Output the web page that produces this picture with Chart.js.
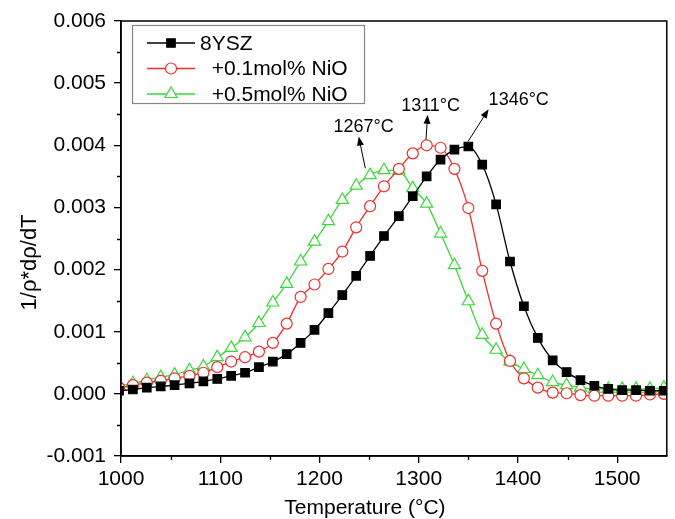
<!DOCTYPE html>
<html><head><meta charset="utf-8">
<script src="https://cdn.jsdelivr.net/npm/chart.js@4.4.0/dist/chart.umd.min.js"></script>
<style>html,body{margin:0;padding:0;background:#fff}#wrap{width:675px;height:519px}</style>
</head><body><div id="wrap"><canvas id="c" width="675" height="519"></canvas></div>
<script>
// ---- data ----
const temperatures = [998,1012,1026,1040,1054,1069,1083,1097,1111,1125,1139,1153,1167,1181,1195,1209,1223,1237,1251,1265,1280,1294,1308,1322,1336,1350,1364,1378,1392,1406,1420,1435,1449,1463,1477,1491,1505,1519,1533,1547];
const ysz8 = [0.00005,0.00007,0.00010,0.00012,0.00014,0.00017,0.00020,0.00024,0.00029,0.00034,0.00043,0.00052,0.00064,0.00082,0.00103,0.00130,0.00159,0.00190,0.00222,0.00254,0.00286,0.00318,0.00350,0.00377,0.00393,0.00398,0.00369,0.00305,0.00213,0.00141,0.00090,0.00054,0.00035,0.00022,0.00013,0.00008,0.00006,0.00006,0.00005,0.00005];
const nio01 = [0.00010,0.00014,0.00018,0.00021,0.00025,0.00029,0.00034,0.00043,0.00052,0.00059,0.00068,0.00082,0.00113,0.00156,0.00176,0.00201,0.00229,0.00268,0.00302,0.00334,0.00362,0.00387,0.00400,0.00396,0.00362,0.00299,0.00198,0.00113,0.00053,0.00025,0.00010,0.00002,0.00001,-0.00002,-0.00003,-0.00003,-0.00003,-0.00003,-0.00001,0.00000];
const nio05 = [0.00013,0.00017,0.00022,0.00027,0.00031,0.00038,0.00044,0.00059,0.00074,0.00091,0.00114,0.00147,0.00177,0.00213,0.00245,0.00278,0.00312,0.00335,0.00352,0.00360,0.00359,0.00331,0.00306,0.00258,0.00207,0.00149,0.00095,0.00071,0.00052,0.00040,0.00030,0.00019,0.00014,0.00010,0.00008,0.00008,0.00008,0.00008,0.00008,0.00010];
const seriesLabels = ['8YSZ', '  +0.1mol% NiO', '  +0.5mol% NiO'];
const xTickValues = [1000, 1100, 1200, 1300, 1400, 1500];
const yTickValues = [-0.001, 0.000, 0.001, 0.002, 0.003, 0.004, 0.005, 0.006];
const xTitle = 'Temperature (°C)';
const yTitle = '1/ρ*dρ/dT';
const peakLabels = ['1267°C', '1311°C', '1346°C'];
const peakLabelAt = [[1244.5, 0.00430], [1312, 0.00463], [1400.8, 0.00473]];
const arrowFrom = [[1246.2, 0.00363], [1307.3, 0.00409], [1349.7, 0.00406]];
const arrowTo = [[1239.5, 0.00414], [1309, 0.00449], [1370.4, 0.00458]];

const FONT = '"Liberation Sans", Arial, Helvetica, sans-serif';
const BLACK = '#000000', RED = '#ef2d2d', GREEN = '#3ad83a';

function pts(ys) { return temperatures.map((t, i) => ({x: t, y: ys[i]})); }

function drawMarker(ctx, style, x, y, r, fill, stroke, lw) {
  ctx.save();
  ctx.beginPath();
  if (style === 'rect') {
    const s = r * Math.SQRT1_2;
    ctx.rect(x - s, y - s, 2 * s, 2 * s);
  } else if (style === 'triangle') {
    for (let k = 0; k < 3; k++) {
      const a = k * 2 * Math.PI / 3;
      const px = x + Math.sin(a) * r, py = y - Math.cos(a) * r;
      if (k === 0) ctx.moveTo(px, py); else ctx.lineTo(px, py);
    }
    ctx.closePath();
  } else {
    ctx.arc(x, y, r, 0, Math.PI * 2);
  }
  ctx.fillStyle = fill; ctx.fill();
  ctx.lineWidth = lw; ctx.strokeStyle = stroke; ctx.stroke();
  ctx.restore();
}

const decorPlugin = {
  id: 'decor',
  afterDraw(chart) {
    const ctx = chart.ctx, ca = chart.chartArea;
    const xs = chart.scales.x, ys = chart.scales.y;
    ctx.save();
    // frame
    ctx.strokeStyle = '#000'; ctx.lineWidth = 1.5;
    ctx.strokeRect(ca.left, ca.top, ca.right - ca.left, ca.bottom - ca.top);
    // minor ticks
    ctx.lineWidth = 1.3;
    ctx.beginPath();
    for (let i = 0; i < xTickValues.length; i++) {
      const px = Math.round(xs.getPixelForValue(xTickValues[i] + 50)) + 0.5;
      if (px <= ca.right - 2) { ctx.moveTo(px, ca.bottom); ctx.lineTo(px, ca.bottom + 4); }
    }
    for (let i = 0; i < yTickValues.length - 1; i++) {
      const py = Math.round(ys.getPixelForValue(yTickValues[i] + 0.0005)) + 0.5;
      ctx.moveTo(ca.left, py); ctx.lineTo(ca.left - 4, py);
    }
    ctx.stroke();

    // axis titles
    ctx.fillStyle = '#000';
    ctx.font = '21px ' + FONT;
    ctx.textAlign = 'center'; ctx.textBaseline = 'middle';
    ctx.fillText(xTitle, ca.left + (ca.right - ca.left) * 0.447, ca.bottom + 52);
    ctx.save();
    ctx.translate(ca.left - 91, ca.top + (ca.bottom - ca.top) * 0.555);
    ctx.rotate(-Math.PI / 2);
    ctx.font = '22px ' + FONT;
    ctx.fillText(yTitle, 0, 0);
    ctx.restore();

    // peak annotations
    ctx.font = '18px ' + FONT;
    for (let i = 0; i < peakLabels.length; i++) {
      const tx = xs.getPixelForValue(peakLabelAt[i][0]), ty = ys.getPixelForValue(peakLabelAt[i][1]);
      ctx.fillText(peakLabels[i], tx, ty);
      const x0 = xs.getPixelForValue(arrowFrom[i][0]), y0 = ys.getPixelForValue(arrowFrom[i][1]);
      const x1 = xs.getPixelForValue(arrowTo[i][0]), y1 = ys.getPixelForValue(arrowTo[i][1]);
      const ang = Math.atan2(y1 - y0, x1 - x0);
      const hl = 9, hw = 3.5;
      ctx.beginPath(); ctx.lineWidth = 1; ctx.strokeStyle = '#000';
      ctx.moveTo(x0, y0);
      ctx.lineTo(x1 - Math.cos(ang) * hl * 0.8, y1 - Math.sin(ang) * hl * 0.8);
      ctx.stroke();
      ctx.beginPath();
      ctx.moveTo(x1, y1);
      ctx.lineTo(x1 - Math.cos(ang) * hl + Math.sin(ang) * hw, y1 - Math.sin(ang) * hl - Math.cos(ang) * hw);
      ctx.lineTo(x1 - Math.cos(ang) * hl - Math.sin(ang) * hw, y1 - Math.sin(ang) * hl + Math.cos(ang) * hw);
      ctx.closePath(); ctx.fill();
    }

    // legend box
    const bx = ca.left + 11, by = ca.top + 4, bw = 232, bh = 78;
    ctx.fillStyle = '#fff';
    ctx.fillRect(bx, by, bw, bh);
    ctx.strokeStyle = '#888'; ctx.lineWidth = 1.2;
    ctx.strokeRect(bx + 0.5, by + 0.5, bw, bh);
    ctx.font = '21px ' + FONT;
    ctx.textAlign = 'left'; ctx.textBaseline = 'middle';
    chart.data.datasets.forEach((ds, i) => {
      const ly = by + 18 + i * 25.5;
      const lx0 = bx + 15, lx1 = bx + 63, cx = (lx0 + lx1) / 2;
      ctx.beginPath(); ctx.strokeStyle = ds.borderColor; ctx.lineWidth = ds.borderWidth;
      ctx.moveTo(lx0, ly); ctx.lineTo(lx1, ly); ctx.stroke();
      drawMarker(ctx, ds.pointStyle, cx, ly, ds.pointRadius, ds.pointBackgroundColor, ds.pointBorderColor, ds.pointBorderWidth);
      ctx.fillStyle = '#000';
      ctx.fillText(ds.label, bx + 68, ly + 1);
    });
    ctx.restore();
  }
};

function ds(label, ys, color, style, radius, fill) {
  return {
    label: label, data: pts(ys), borderColor: color, borderWidth: 1.3,
    pointStyle: style, pointRadius: radius, pointHoverRadius: radius,
    pointBackgroundColor: fill, pointBorderColor: color, pointBorderWidth: 1.2,
    cubicInterpolationMode: 'monotone', fill: false
  };
}

new Chart(document.getElementById('c'), {
  type: 'line',
  data: {
    datasets: [
      ds(seriesLabels[0], ysz8, BLACK, 'rect', 6, BLACK),
      ds(seriesLabels[1], nio01, RED, 'circle', 5.5, '#ffffff'),
      ds(seriesLabels[2], nio05, GREEN, 'triangle', 7, '#ffffff')
    ]
  },
  options: {
    responsive: false, animation: false, devicePixelRatio: 1,
    layout: { padding: { top: 21, right: 5, left: 0, bottom: 0 } },
    plugins: { legend: { display: false }, tooltip: { enabled: false } },
    scales: {
      x: {
        type: 'linear', min: 1000, max: 1550,
        afterFit: s => { s.height = 63; },
        afterBuildTicks: s => { s.ticks = xTickValues.map(v => ({value: v})); },
        ticks: { stepSize: 100, includeBounds: false, maxRotation: 0, autoSkip: false, color: '#000', padding: 4,
                 font: { family: FONT, size: 21 }, callback: v => String(v) },
        grid: { drawOnChartArea: false, drawTicks: true, tickLength: 7, color: '#000', lineWidth: 1.3 },
        border: { display: true, color: '#000', width: 1.5 },
        title: { display: false }
      },
      y: {
        type: 'linear', min: -0.001, max: 0.006,
        afterFit: s => { s.width = 121; },
        afterBuildTicks: s => { s.ticks = yTickValues.map(v => ({value: v})); },
        ticks: { stepSize: 0.001, includeBounds: false, color: '#000', padding: 8,
                 font: { family: FONT, size: 21 },
                 callback: v => (Math.abs(v) < 1e-10 ? 0 : v).toFixed(3) },
        grid: { drawOnChartArea: false, drawTicks: true, tickLength: 7, color: '#000', lineWidth: 1.3 },
        border: { display: true, color: '#000', width: 1.5 },
        title: { display: false }
      }
    }
  },
  plugins: [decorPlugin]
});
</script>
</body></html>
